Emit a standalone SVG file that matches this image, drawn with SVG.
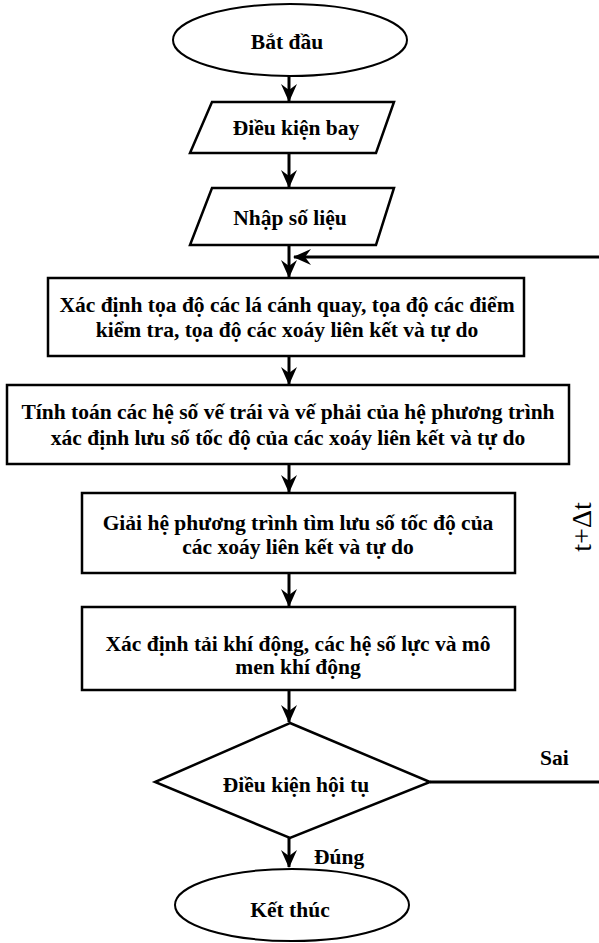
<svg xmlns="http://www.w3.org/2000/svg" width="599" height="943" viewBox="0 0 599 943">
<defs>
<style>
.shape{fill:#fff;stroke:#000;stroke-width:2.5}
.ell{fill:#fff;stroke:#000;stroke-width:2}
.t{font-family:"Liberation Serif","Times New Roman",serif;font-weight:bold;font-size:21.5px;fill:#000;text-anchor:middle}
.lbl{font-family:"Liberation Serif","Times New Roman",serif;font-weight:bold;font-size:21.5px;fill:#000}
.c{fill:none;stroke:#000;stroke-width:3}
</style>
<marker id="ah" markerUnits="userSpaceOnUse" markerWidth="18" markerHeight="18" viewBox="0 0 18 18" refX="17" refY="9" orient="auto">
<path d="M0,1 L18,9 L0,17 L6,9 z" fill="#000"/>
</marker>
</defs>
<g id="connectors">
<line class="c" x1="289" y1="76" x2="289" y2="101" marker-end="url(#ah)"/>
<line class="c" x1="289" y1="153" x2="289" y2="187" marker-end="url(#ah)"/>
<line class="c" x1="289" y1="245" x2="289" y2="277" marker-end="url(#ah)"/>
<line class="c" x1="289" y1="356" x2="289" y2="384" marker-end="url(#ah)"/>
<line class="c" x1="289" y1="464" x2="289" y2="492" marker-end="url(#ah)"/>
<line class="c" x1="289" y1="573" x2="289" y2="606" marker-end="url(#ah)"/>
<line class="c" x1="289" y1="690" x2="289" y2="722" marker-end="url(#ah)"/>
<line class="c" x1="289" y1="838" x2="289" y2="867" marker-end="url(#ah)"/>
<path class="c" d="M430,782 H606 V257 H294" marker-end="url(#ah)"/>
<text class="lbl" x="540" y="765">Sai</text>
<text class="lbl" x="314" y="864">Đúng</text>
<text x="0" y="0" transform="translate(591,527) rotate(-90)" style="font-family:'Liberation Serif','Times New Roman',serif;font-size:28px;fill:#000;text-anchor:middle">t+Δt</text>
</g>
<g id="start">
<ellipse class="ell" cx="290" cy="40" rx="117" ry="36"/>
<text class="t" x="287" y="49">Bắt đầu</text>
</g>
<g id="dieu-kien-bay">
<polygon class="shape" points="212,102 394,102 376,153 190,153"/>
<text class="t" x="296" y="135">Điều kiện bay</text>
</g>
<g id="nhap-so-lieu">
<polygon class="shape" points="212,188 394,188 376,245 190,245"/>
<text class="t" x="290" y="225">Nhập số liệu</text>
</g>
<g id="box1">
<rect class="shape" x="48" y="278" width="476" height="78"/>
<text class="t" x="287" y="312">Xác định tọa độ các lá cánh quay, tọa độ các điểm</text>
<text class="t" x="287" y="337">kiểm tra, tọa độ các xoáy liên kết và tự do</text>
</g>
<g id="box2">
<rect class="shape" x="7" y="385" width="562" height="79"/>
<text class="t" x="288" y="419">Tính toán các hệ số vế trái và vế phải của hệ phương trình</text>
<text class="t" x="288" y="445">xác định lưu số tốc độ của các xoáy liên kết và tự do</text>
</g>
<g id="box3">
<rect class="shape" x="82" y="493" width="433" height="80"/>
<text class="t" x="298" y="530">Giải hệ phương trình tìm lưu số tốc độ của</text>
<text class="t" x="298" y="554">các xoáy liên kết và tự do</text>
</g>
<g id="box4">
<rect class="shape" x="82" y="607" width="433" height="83"/>
<text class="t" x="298" y="651">Xác định tải khí động, các hệ số lực và mô</text>
<text class="t" x="298" y="674">men khí động</text>
</g>
<g id="hoi-tu">
<polygon class="shape" points="290,723 430,782 290,838 155,782"/>
<text class="t" x="296" y="792">Điều kiện hội tụ</text>
</g>
<g id="end">
<ellipse class="ell" cx="292" cy="905" rx="117" ry="36"/>
<text class="t" x="290" y="917">Kết thúc</text>
</g>
</svg>
